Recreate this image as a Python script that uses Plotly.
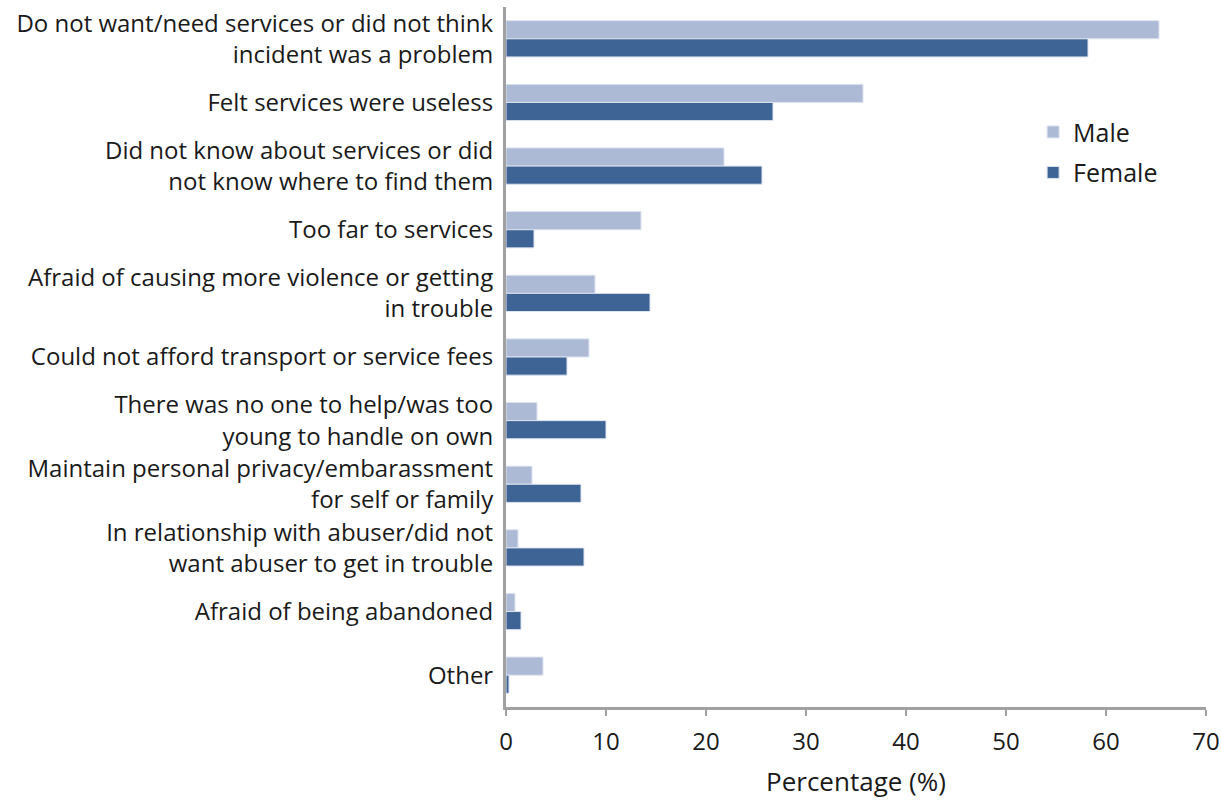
import plotly.graph_objects as go

categories = [
    "Do not want/need services or did not think<br>incident was a problem",
    "Felt services were useless",
    "Did not know about services or did<br>not know where to find them",
    "Too far to services",
    "Afraid of causing more violence or getting<br>in trouble",
    "Could not afford transport or service fees",
    "There was no one to help/was too<br>young to handle on own",
    "Maintain personal privacy/embarassment<br>for self or family",
    "In relationship with abuser/did not<br>want abuser to get in trouble",
    "Afraid of being abandoned",
    "Other",
]
male = [65.3, 35.7, 21.8, 13.5, 8.9, 8.3, 3.1, 2.6, 1.2, 0.9, 3.7]
female = [58.2, 26.7, 25.6, 2.8, 14.4, 6.1, 10.0, 7.5, 7.8, 1.5, 0.3]
x_ticks = [0, 10, 20, 30, 40, 50, 60, 70]

MALE_C = "#adbad5"
FEMALE_C = "#3e6496"
FONT = "Open Sans"
TXT = "#1a1a1a"

fig = go.Figure()
fig.add_trace(go.Bar(
    y=categories, x=male, name="Male", orientation="h", legendgroup="m",
    marker=dict(color=MALE_C, line=dict(color="#dde3ef", width=1)),
))
fig.add_trace(go.Bar(
    y=categories, x=female, name="Female", orientation="h", legendgroup="f",
    marker=dict(color=FEMALE_C, line=dict(color="#dde3ef", width=1)),
))

fig.update_layout(
    width=1221, height=800,
    margin=dict(l=506, r=15, t=7, b=93),
    paper_bgcolor="white", plot_bgcolor="white",
    barmode="group", bargap=0.43, bargroupgap=0,
    font=dict(family=FONT, size=24, color=TXT),
    showlegend=True,
    legend=dict(
        x=0.753, y=0.854, xanchor="left", yanchor="top",
        font=dict(size=25, family=FONT, color=TXT),
        bgcolor="rgba(0,0,0,0)", itemwidth=30,
        traceorder="grouped", tracegroupgap=5,
    ),
    xaxis=dict(
        range=[0, 70], tickvals=x_ticks, showgrid=False, zeroline=False,
        automargin=False,
        showline=True, linecolor="#a0a0a0", linewidth=3,
        ticks="outside", ticklen=6, tickwidth=2, tickcolor="#a0a0a0",
        ticklabelstandoff=5,
        tickfont=dict(size=24, family=FONT, color=TXT),
        title=dict(text="Percentage (%)", font=dict(size=26, family=FONT, color=TXT), standoff=18),
    ),
    yaxis=dict(
        autorange="reversed", showgrid=False, zeroline=False,
        automargin=False,
        showline=True, linecolor="#a0a0a0", linewidth=3,
        ticks="", ticklabelstandoff=5,
        tickfont=dict(size=24, family=FONT, color=TXT),
    ),
)

fig.write_html(
    "out.html",
    config={"displayModeBar": False},
    post_script="document.body.style.margin='0';document.body.style.overflow='hidden';",
)
